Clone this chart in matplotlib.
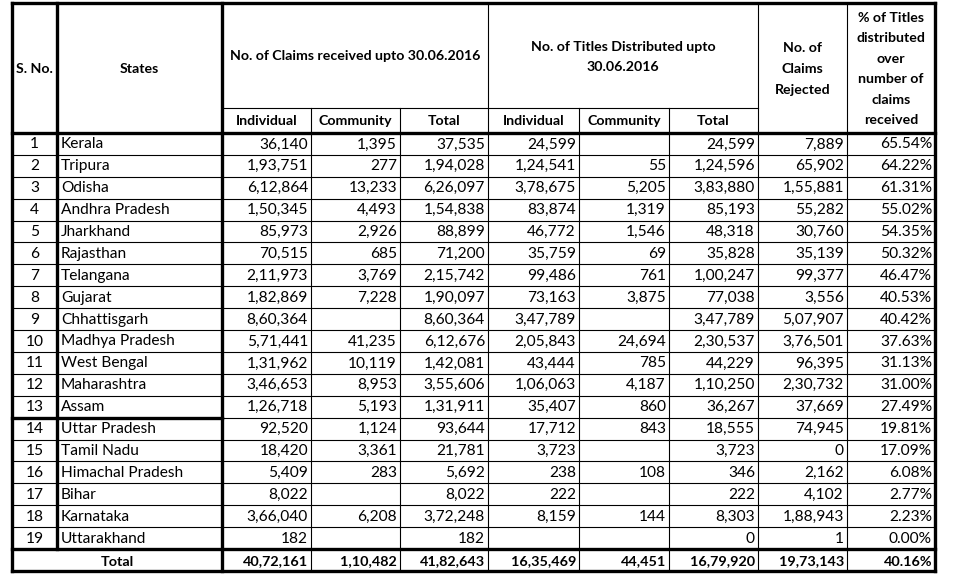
import matplotlib.pyplot as plt

# table data
s_no = list(range(1, 20))
states = ["Kerala", "Tripura", "Odisha", "Andhra Pradesh", "Jharkhand", "Rajasthan",
          "Telangana", "Gujarat", "Chhattisgarh", "Madhya Pradesh", "West Bengal",
          "Maharashtra", "Assam", "Uttar Pradesh", "Tamil Nadu", "Himachal Pradesh",
          "Bihar", "Karnataka", "Uttarakhand"]
claims_ind = [36140, 193751, 612864, 150345, 85973, 70515, 211973, 182869, 860364,
              571441, 131962, 346653, 126718, 92520, 18420, 5409, 8022, 366040, 182]
claims_com = [1395, 277, 13233, 4493, 2926, 685, 3769, 7228, None, 41235, 10119,
              8953, 5193, 1124, 3361, 283, None, 6208, None]
claims_tot = [37535, 194028, 626097, 154838, 88899, 71200, 215742, 190097, 860364,
              612676, 142081, 355606, 131911, 93644, 21781, 5692, 8022, 372248, 182]
titles_ind = [24599, 124541, 378675, 83874, 46772, 35759, 99486, 73163, 347789,
              205843, 43444, 106063, 35407, 17712, 3723, 238, 222, 8159, None]
titles_com = [None, 55, 5205, 1319, 1546, 69, 761, 3875, None, 24694, 785, 4187,
              860, 843, None, 108, None, 144, None]
titles_tot = [24599, 124596, 383880, 85193, 48318, 35828, 100247, 77038, 347789,
              230537, 44229, 110250, 36267, 18555, 3723, 346, 222, 8303, 0]
rejected = [7889, 65902, 155881, 55282, 30760, 35139, 99377, 3556, 507907, 376501,
            96395, 230732, 37669, 74945, 0, 2162, 4102, 188943, 1]
pct = [65.54, 64.22, 61.31, 55.02, 54.35, 50.32, 46.47, 40.53, 40.42, 37.63, 31.13,
       31.00, 27.49, 19.81, 17.09, 6.08, 2.77, 2.23, 0.00]
totals = [4072161, 110482, 4182643, 1635469, 44451, 1679920, 1973143]
total_pct = 40.16


def indian(v):
    # Indian digit grouping: 12,34,567
    if v is None:
        return ""
    s = str(int(v))
    if len(s) <= 3:
        return s
    head, tail = s[:-3], s[-3:]
    parts = []
    while len(head) > 2:
        parts.insert(0, head[-2:])
        head = head[:-2]
    if head:
        parts.insert(0, head)
    return ",".join(parts) + "," + tail


W, H = 954, 579
fig = plt.figure(figsize=(W / 100, H / 100), dpi=100)
ax = fig.add_axes([0, 0, 1, 1])
ax.set_xlim(0, W)
ax.set_ylim(H, 0)
ax.axis("off")

plt.rcParams["font.family"] = ["Lato", "DejaVu Sans"]
fs = 11.2      # body text
fh = 10.2      # header text
ft = 10.4      # total row
ls = 1.85
thin = 0.8
thick = 2.4

# column edges and row edges (pixels)
xs = [12, 57, 222, 311, 400, 488, 579, 669, 758, 847, 935]
y_top, y_sub, y_head = 3, 108, 133
y_total, y_bot = 549, 571
n = len(states)
rh = (y_total - y_head) / n
ys = [y_head + i * rh for i in range(n + 1)]


def hline(y, x0, x1, lw):
    ax.plot([x0, x1], [y, y], color="black", lw=lw, solid_capstyle="projecting")


def vline(x, y0, y1, lw):
    ax.plot([x, x], [y0, y1], color="black", lw=lw, solid_capstyle="projecting")


# horizontal grid
for y in ys[1:-1]:
    hline(y, xs[0], xs[-1], thin)
hline(y_sub, xs[2], xs[8], thin)
hline(y_top, xs[0], xs[-1], thick)
hline(y_head, xs[0], xs[-1], thick)
hline(ys[13], xs[0], xs[2], thick)
hline(y_total, xs[0], xs[-1], thick)
hline(y_bot, xs[0], xs[-1], thick)

# vertical grid
vline(xs[0], y_top, y_bot, thick)
vline(xs[1], y_top, y_total, thick)
vline(xs[2], y_top, y_bot, thick)
for i in (3, 4, 6, 7):
    vline(xs[i], y_sub, y_bot, thin)
for i in (5, 8, 9):
    vline(xs[i], y_top, y_bot, thin)
vline(xs[-1], y_top, y_bot, thick)

# header text
hb = dict(fontsize=fh, fontweight="bold", ha="center", va="center")
ax.text((xs[0] + xs[1]) / 2, 69, "S. No.", **hb)
ax.text((xs[1] + xs[2]) / 2, 69, "States", **hb)
ax.text((xs[2] + xs[5]) / 2, 56, "No. of Claims received upto 30.06.2016", **hb)
ax.text((xs[5] + xs[8]) / 2, 57, "No. of Titles Distributed upto\n30.06.2016",
        linespacing=ls, **hb)
ax.text((xs[8] + xs[9]) / 2, 69, "No. of\nClaims\nRejected", linespacing=ls, **hb)
ax.text((xs[9] + xs[10]) / 2, 69,
        "% of Titles\ndistributed\nover\nnumber of\nclaims\nreceived",
        linespacing=ls, **hb)
for i, lab in zip(range(2, 8), ["Individual", "Community", "Total"] * 2):
    ax.text((xs[i] + xs[i + 1]) / 2, 121, lab, **hb)

# body rows
cols = [claims_ind, claims_com, claims_tot, titles_ind, titles_com, titles_tot, rejected]
for r in range(n):
    yc = (ys[r] + ys[r + 1]) / 2 + 0.5
    ax.text((xs[0] + xs[1]) / 2, yc, str(s_no[r]), fontsize=fs, ha="center", va="center")
    ax.text(xs[1] + 4, yc, states[r], fontsize=fs, ha="left", va="center")
    for c, col in enumerate(cols):
        ax.text(xs[c + 3] - 3, yc, indian(col[r]), fontsize=fs, ha="right", va="center")
    ax.text(xs[10] - 3, yc, f"{pct[r]:.2f}%", fontsize=fs, ha="right", va="center")

# total row
yc = (y_total + y_bot) / 2 + 1.5
ax.text((xs[0] + xs[2]) / 2, yc, "Total", fontsize=ft, fontweight="bold",
        ha="center", va="center")
for c, v in enumerate(totals):
    ax.text(xs[c + 3] - 3, yc, indian(v), fontsize=ft, fontweight="bold",
            ha="right", va="center")
ax.text(xs[10] - 3, yc, f"{total_pct:.2f}%", fontsize=ft, fontweight="bold",
        ha="right", va="center")

fig.savefig("out.png", dpi=100, facecolor="white")
